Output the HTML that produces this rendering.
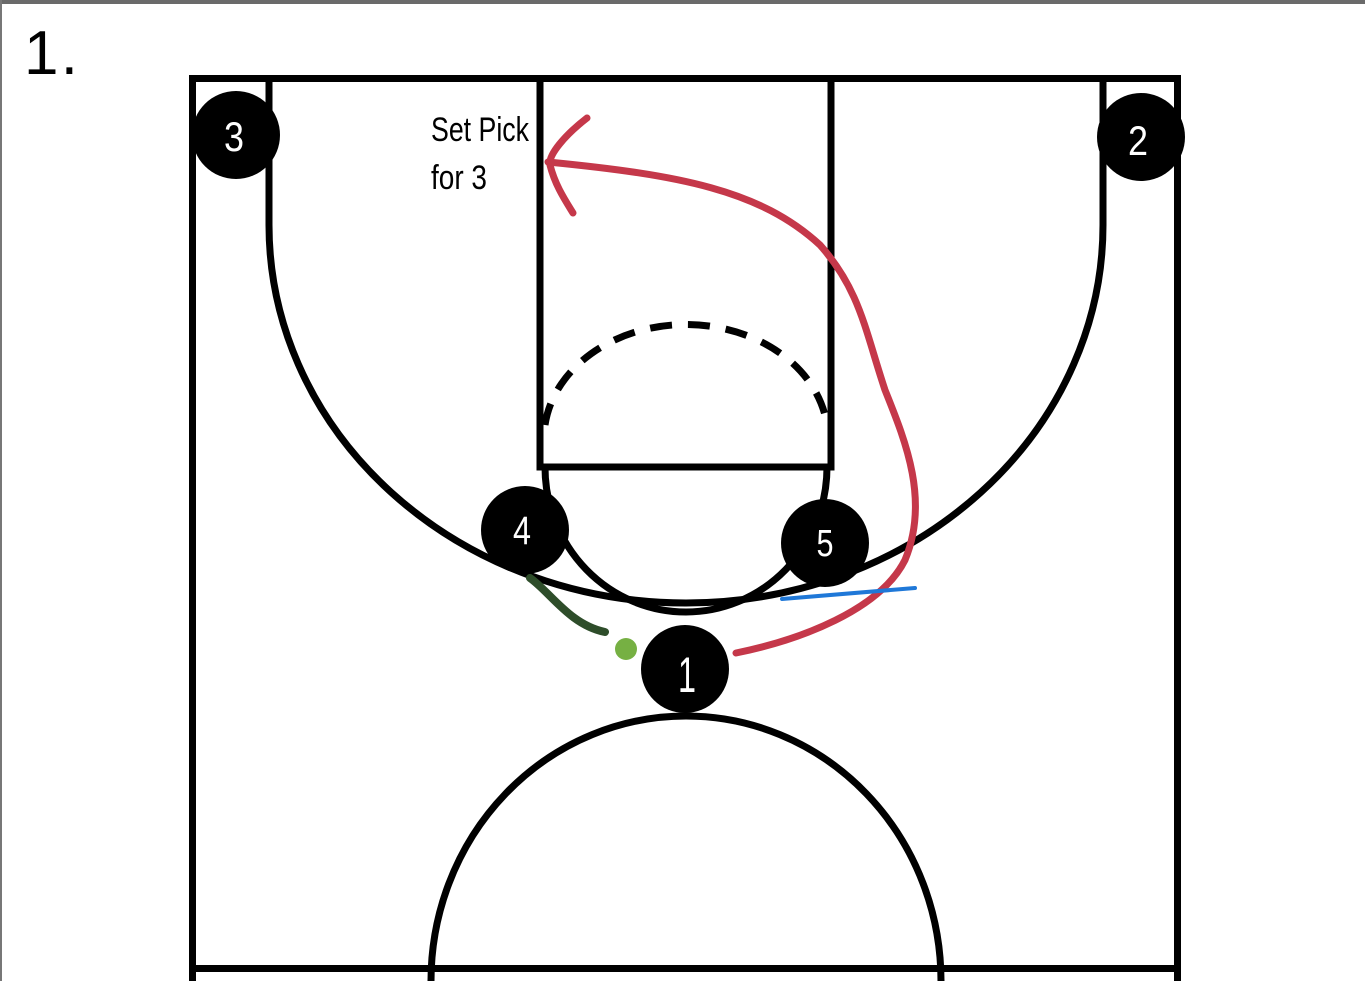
<!DOCTYPE html>
<html><head><meta charset="utf-8"><style>
html,body{margin:0;padding:0;background:#fff;}
svg{display:block;}
</style></head><body>
<svg width="1365" height="981" viewBox="0 0 1365 981" xmlns="http://www.w3.org/2000/svg">
<rect x="0" y="0" width="1365" height="4" fill="#6a6a6a"/>
<rect x="0" y="0" width="2" height="981" fill="#777"/>
<text x="24" y="74" font-family="Liberation Sans, sans-serif" font-size="62" fill="#000" textLength="54" lengthAdjust="spacing">1.</text>
<g fill="none" stroke="#000" stroke-width="7">
<path d="M192.5 981 V78.5 H1177.5 V981"/>
<line x1="190" y1="968.5" x2="1181" y2="968.5"/>
<path d="M269 82 V225 A417 378 0 0 0 1103 225 V82"/>
<path d="M540 82 V467 H831 V82"/>
<path d="M545 467 A141 145 0 0 0 827 467"/>
<path d="M545 425 A142 114 0 0 1 827 425" stroke-dasharray="22 16"/>
<path d="M431 981 A255 265 0 0 1 941 981"/>
</g>
<path d="M736 653 C800 640 880 610 905 560 C930 500 905 440 885 390 C865 330 860 290 820 245 C760 190 680 175 548 162" fill="none" stroke="#c5384a" stroke-width="7" stroke-linecap="round"/>
<path d="M587 118 C565 135 548 155 550 165 C555 185 565 200 573 213" fill="none" stroke="#c5384a" stroke-width="7" stroke-linecap="round"/>
<line x1="782" y1="599" x2="915" y2="588" stroke="#1f78d8" stroke-width="4" stroke-linecap="round"/>
<path d="M530 578 C550 592 570 625 605 632" fill="none" stroke="#2e4d2a" stroke-width="8" stroke-linecap="round"/>
<circle cx="626" cy="649" r="11" fill="#76b043"/>
<g font-family="Liberation Sans, sans-serif" fill="#fff" text-anchor="middle">
<circle cx="236" cy="135" r="44" fill="#000"/>
<text x="234" y="151" font-size="42" textLength="20" lengthAdjust="spacingAndGlyphs">3</text>
<circle cx="1141" cy="137" r="44" fill="#000"/>
<text x="1138" y="155" font-size="42" textLength="20" lengthAdjust="spacingAndGlyphs">2</text>
<circle cx="525" cy="530" r="44" fill="#000"/>
<text x="522" y="544" font-size="40" textLength="18" lengthAdjust="spacingAndGlyphs">4</text>
<circle cx="825" cy="543" r="44" fill="#000"/>
<text x="825" y="556" font-size="38" textLength="17" lengthAdjust="spacingAndGlyphs">5</text>
<circle cx="685" cy="669" r="44" fill="#000"/>
<text x="687" y="692" font-size="50" textLength="18" lengthAdjust="spacingAndGlyphs">1</text>
</g>
<g font-family="Liberation Sans, sans-serif" font-size="34" fill="#000">
<text x="431" y="141" textLength="98" lengthAdjust="spacingAndGlyphs">Set Pick</text>
<text x="431" y="189" textLength="56" lengthAdjust="spacingAndGlyphs">for 3</text>
</g>
</svg>
</body></html>
